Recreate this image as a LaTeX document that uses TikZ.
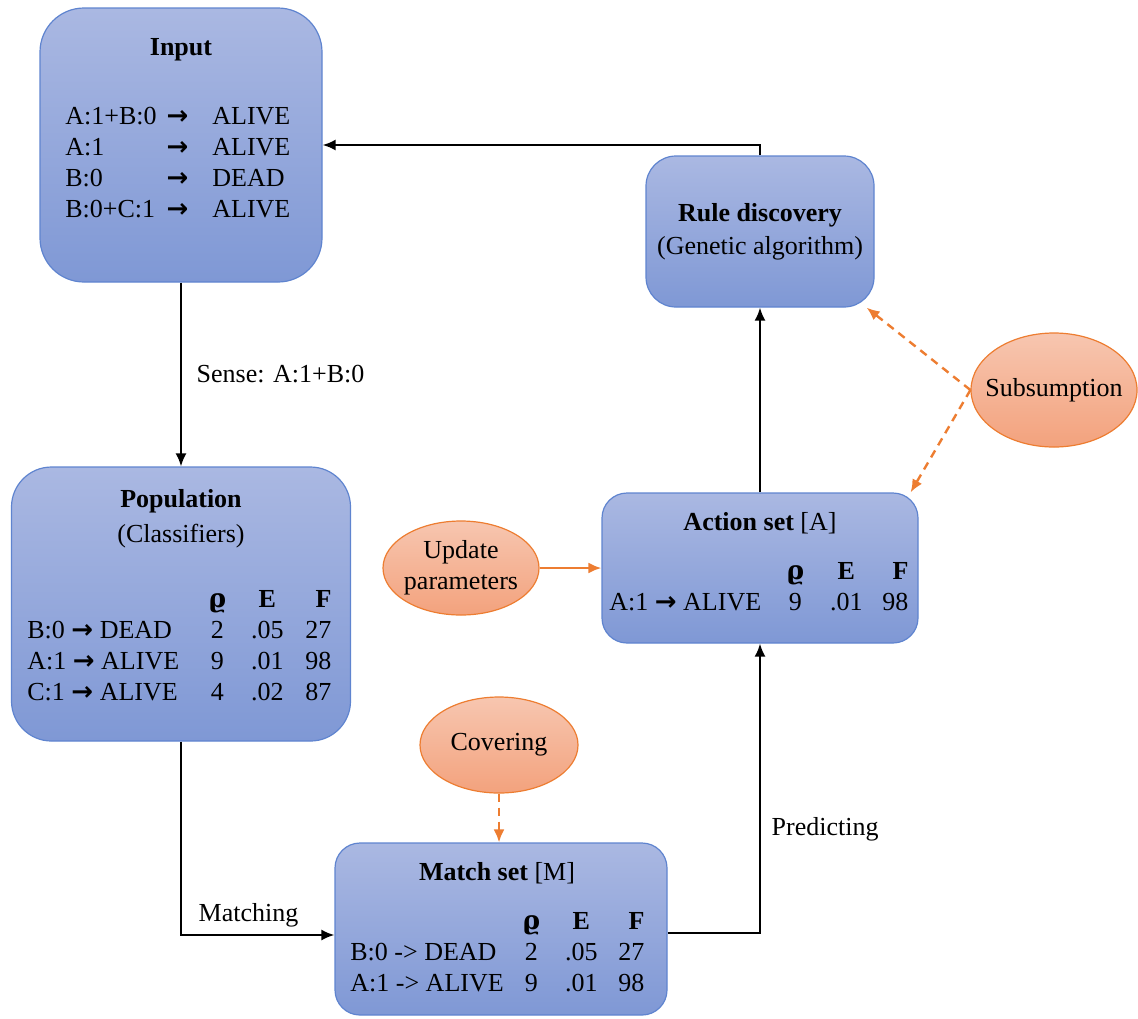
\documentclass[tikz,border=0pt]{standalone}
\usepackage{fontspec}
\usepackage{array}
\setmainfont{Liberation Serif}
\newfontfamily\arrowfont{DejaVu Sans}
\newfontfamily\rhofont{DejaVu Serif}
\usetikzlibrary{arrows.meta,shapes.geometric}

\definecolor{boxtop}{HTML}{AAB8E2}
\definecolor{boxbot}{HTML}{7F98D5}
\definecolor{boxline}{HTML}{5F84CF}
\definecolor{ovaltop}{HTML}{F7C6B0}
\definecolor{ovalbot}{HTML}{F3A27D}
\definecolor{ovalline}{HTML}{ED7D31}

\newcolumntype{C}[1]{>{\centering\arraybackslash}p{#1}}
\newcolumntype{R}[1]{>{\raggedleft\arraybackslash}p{#1}}
\newcommand{\thickarr}{{\arrowfont\bfseries →}}
\newcommand{\rhohead}{{\rhofont\bfseries ϱ}}

\tikzset{
  block/.style={rectangle, draw=boxline, line width=0.6pt, top color=boxtop, bottom color=boxbot, inner sep=0pt},
  oval/.style={ellipse, draw=ovalline, line width=0.6pt, top color=ovaltop, bottom color=ovalbot, inner sep=0pt},
  flow/.style={->, line width=1pt, black},
  aux/.style={->, line width=1.2pt, ovalline},
  auxdash/.style={aux, dash pattern=on 4pt off 3pt},
}

\begin{document}
\begin{tikzpicture}[x=0.5pt, y=-0.5pt, >={Latex[length=6.5pt,width=5.5pt]}, font=\fontsize{13}{15.5}\selectfont]
	\useasboundingbox (0,0) rectangle (1138,1018);
	% boxes
	\node[block, rounded corners=22pt, minimum width=141pt, minimum height=137pt] (input) at (181,145) {};
	\node[block, rounded corners=15pt, minimum width=114pt, minimum height=75.5pt] (rule) at (760,231.5) {};
	\node[block, rounded corners=20pt, minimum width=169.5pt, minimum height=137pt] (pop) at (181,604) {};
	\node[block, rounded corners=12.5pt, minimum width=158pt, minimum height=75pt] (action) at (760,568) {};
	\node[block, rounded corners=12.5pt, minimum width=166pt, minimum height=86pt] (match) at (501,929) {};
	% ovals
	\node[oval, minimum width=83pt, minimum height=57pt] (subs) at (1054,390) {\makebox[0pt]{Subsumption}};
	\node[oval, minimum width=78pt, minimum height=47pt] (update) at (461,568) {\makebox[0pt]{\begin{tabular}{@{}c@{}}Update\\parameters\end{tabular}}};
	\node[oval, minimum width=79pt, minimum height=48pt] (cover) at (499,745) {\makebox[0pt]{Covering}};
	% box texts
	\node (inputhead) at (181,50) {\textbf{Input}};
	\node[anchor=west, inner sep=0pt] (inputrules) at (65,165) {\begin{tabular}{@{}p{49pt}@{}C{14pt}@{\hspace{10.5pt}}l@{}}
		A:1+B:0 & \thickarr & ALIVE\\
		A:1 & \thickarr & ALIVE\\
		B:0 & \thickarr & DEAD\\
		B:0+C:1 & \thickarr & ALIVE
	\end{tabular}};
	\node (rulehead) at (760,232) {\begin{tabular}{@{}c@{}}\textbf{Rule discovery}\\[1pt](Genetic algorithm)\end{tabular}};
	\node (pophead) at (181,519) {\begin{tabular}{@{}c@{}}\textbf{Population}\\[2pt](Classifiers)\end{tabular}};
	\node[anchor=west, inner sep=0pt] (poptable) at (27,648) {\begin{tabular}{@{}p{85pt}@{}C{20pt}@{}C{30pt}@{}R{17pt}@{}}
		& \rhohead & \textbf{E} & \textbf{F}\\
		B:0 \thickarr{} DEAD & 2 & .05 & 27\\
		A:1 \thickarr{} ALIVE & 9 & .01 & 98\\
		C:1 \thickarr{} ALIVE & 4 & .02 & 87
	\end{tabular}};
	\node (acthead) at (760,523) {\textbf{Action set} [A]};
	\node[anchor=west, inner sep=0pt] (acttable) at (609,589) {\begin{tabular}{@{}p{83pt}@{}C{20pt}@{}C{31pt}@{}R{15.5pt}@{}}
		& \rhohead & \textbf{E} & \textbf{F}\\
		A:1 \thickarr{} ALIVE & 9 & .01 & 98
	\end{tabular}};
	\node (matchhead) at (497,873) {\textbf{Match set} [M]};
	\node[anchor=west, inner sep=0pt] (matchtable) at (350,954) {\begin{tabular}{@{}p{81pt}@{}C{19pt}@{}C{31pt}@{}R{16pt}@{}}
		& \rhohead & \textbf{E} & \textbf{F}\\
		B:0 -> DEAD & 2 & .05 & 27\\
		A:1 -> ALIVE & 9 & .01 & 98
	\end{tabular}};
	% connectors
	\draw[flow] (input.south) -- node[right=4pt] {Sense: A:1+B:0} (pop.north);
	\draw[flow] (pop.south) |- node[pos=0.72, above] {Matching} ([yshift=-3pt]match.west);
	\draw[flow] ([yshift=-2pt]match.east) -| node[pos=0.68, right=2pt] {Predicting} (action.south);
	\draw[flow] (action.north) -- (rule.south);
	\draw[flow] (rule.north) |- (input.east);
	\draw[aux] (update.east) -- (action.west);
	\draw[auxdash] (cover.south) -- (cover.south |- match.north);
	\draw[auxdash] (subs.west) -- ([xshift=-4pt]rule.south east);
	\draw[auxdash] (subs.west) -- ([xshift=-4pt]action.north east);
\end{tikzpicture}
\end{document}
